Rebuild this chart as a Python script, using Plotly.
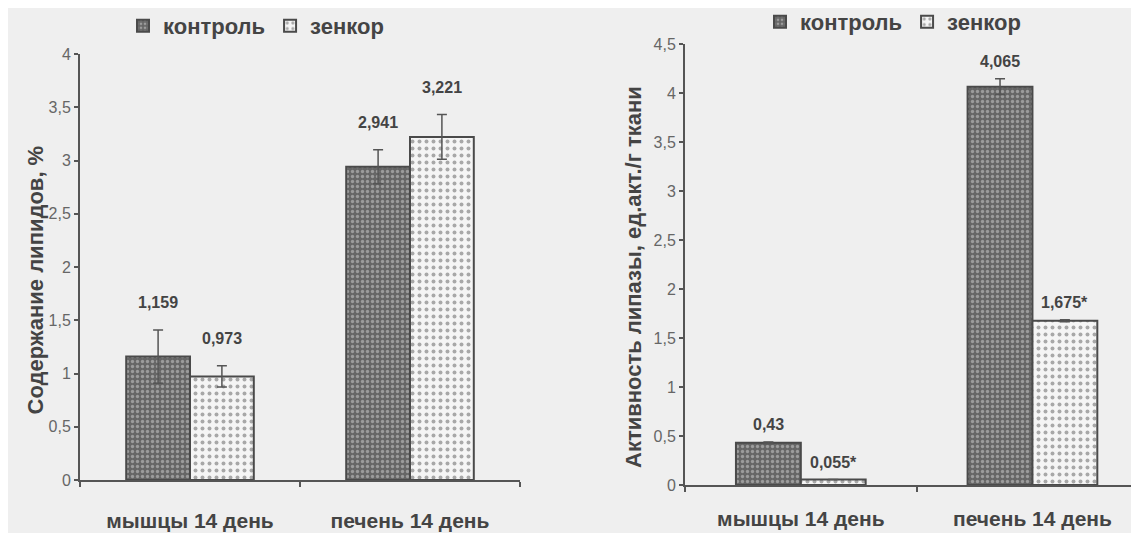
import plotly.graph_objects as go

categories = ["мышцы 14 день", "печень 14 день"]
series_names = ["контроль", "зенкор"]

# Left chart: lipid content, %
lipid_control = [1.159, 2.941]
lipid_zenkor = [0.973, 3.221]
lipid_control_err = [0.25, 0.16]
lipid_zenkor_err = [0.10, 0.21]
lipid_control_labels = ["1,159", "2,941"]
lipid_zenkor_labels = ["0,973", "3,221"]
lipid_ticks = [0, 0.5, 1, 1.5, 2, 2.5, 3, 3.5, 4]

# Right chart: lipase activity
lipase_control = [0.43, 4.065]
lipase_zenkor = [0.055, 1.675]
lipase_control_err = [0.01, 0.08]
lipase_zenkor_err = [0.0, 0.01]
lipase_control_labels = ["0,43", "4,065"]
lipase_zenkor_labels = ["0,055*", "1,675*"]
lipase_ticks = [0, 0.5, 1, 1.5, 2, 2.5, 3, 3.5, 4, 4.5]

left_title = "Содержание липидов, %"
right_title = "Активность липазы, ед.акт./г ткани"

FONT = "Liberation Sans, Arial, sans-serif"
TXT = "#444444"
AX = "#555555"
BG = "#efefef"

# page has an 8px body margin; figure occupies (8,8)-(1139,533)
W, H, OFF = 1131, 525, 8
def PX(x):
    return (x - OFF) / W
def PY(y):
    return 1 - (y - OFF) / H

ctrl_marker = dict(color="#6a6a6a", line=dict(color="#4a4a4a", width=2),
                   pattern=dict(shape=".", fgcolor="#9c9c9c", bgcolor="#666666",
                                size=5, solidity=0.35, fillmode="replace"))
zen_marker = dict(color="#f5f5f5", line=dict(color="#4a4a4a", width=2),
                  pattern=dict(shape=".", fgcolor="#a8a8a8", bgcolor="#f5f5f5",
                               size=7, solidity=0.25, fillmode="replace"))

def err(arr):
    return dict(type="data", array=arr, visible=True, color=AX, thickness=1.5, width=5)

fig = go.Figure()
wl = 0.29
wr = 0.28
fig.add_trace(go.Bar(x=categories, y=lipid_control, name="<b>" + series_names[0] + "</b>",
                     xaxis="x", yaxis="y", width=wl, offset=-wl, marker=ctrl_marker,
                     error_y=err(lipid_control_err), legend="legend"))
fig.add_trace(go.Bar(x=categories, y=lipid_zenkor, name="<b>" + series_names[1] + "</b>",
                     xaxis="x", yaxis="y", width=wl, offset=0, marker=zen_marker,
                     error_y=err(lipid_zenkor_err), legend="legend"))
fig.add_trace(go.Bar(x=categories, y=lipase_control, name="<b>" + series_names[0] + "</b>",
                     xaxis="x2", yaxis="y2", width=wr, offset=-wr, marker=ctrl_marker,
                     error_y=err(lipase_control_err), legend="legend2"))
fig.add_trace(go.Bar(x=categories, y=lipase_zenkor, name="<b>" + series_names[1] + "</b>",
                     xaxis="x2", yaxis="y2", width=wr, offset=0, marker=zen_marker,
                     error_y=err(lipase_zenkor_err), legend="legend2"))

annotations = []
def add_labels(vals, errs, labels, xref, yref, w, sign, yshift):
    for i, (v, e, t) in enumerate(zip(vals, errs, labels)):
        annotations.append(dict(x=i + sign * w / 2, y=v + e, xref=xref, yref=yref,
                                text="<b>" + t + "</b>", showarrow=False, yshift=yshift,
                                yanchor="middle", font=dict(size=16, color=TXT, family=FONT)))

add_labels(lipid_control, lipid_control_err, lipid_control_labels, "x", "y", wl, -1, 27)
add_labels(lipid_zenkor, lipid_zenkor_err, lipid_zenkor_labels, "x", "y", wl, 1, 27)
add_labels(lipase_control, lipase_control_err, lipase_control_labels, "x2", "y2", wr, -1, 17)
add_labels(lipase_zenkor, lipase_zenkor_err, lipase_zenkor_labels, "x2", "y2", wr, 1, 17)

annotations.append(dict(x=PX(20), y=PY(280), xref="paper", yref="paper",
                        text="<b>" + left_title + "</b>", textangle=-90, showarrow=False,
                        font=dict(size=22, color=TXT, family=FONT)))
annotations.append(dict(x=PX(633), y=PY(277), xref="paper", yref="paper",
                        text="<b>" + right_title + "</b>", textangle=-90, showarrow=False,
                        font=dict(size=22, color=TXT, family=FONT)))

xcommon = dict(type="category", showline=True, linecolor=AX, linewidth=2, ticks="outside",
               ticklen=5, tickcolor=AX, tickwidth=1.5, tickson="boundaries", showgrid=False,
               zeroline=False, automargin=False,
               tickfont=dict(size=21, color=TXT, family=FONT, weight="bold"))
ycommon = dict(showline=True, linecolor=AX, linewidth=2, ticks="outside", ticklen=4,
               tickcolor=AX, tickwidth=1.5, showgrid=False, zeroline=False, automargin=False,
               tickfont=dict(size=16, color="#666666", family=FONT))

fig.update_layout(
    width=W, height=H, margin=dict(l=0, r=0, t=0, b=0, autoexpand=False),
    paper_bgcolor=BG, plot_bgcolor=BG, separators=", ",
    font=dict(family=FONT, color=TXT),
    barmode="group",
    xaxis=dict(xcommon, domain=[PX(80), PX(520)], range=[-0.5, 1.5], anchor="y",
               ticklabelstandoff=21),
    yaxis=dict(ycommon, domain=[PY(480), PY(54)], range=[0, 4],
               tickvals=lipid_ticks, anchor="x"),
    xaxis2=dict(xcommon, domain=[PX(685), 1.0], range=[-0.5, 1.46], anchor="y2",
                ticklabelstandoff=14),
    yaxis2=dict(ycommon, domain=[PY(485), PY(44)], range=[0, 4.5],
                tickvals=lipase_ticks, anchor="x2"),
    legend=dict(orientation="h", x=PX(123), y=PY(26), xanchor="left", yanchor="middle",
                bgcolor="rgba(0,0,0,0)", font=dict(size=22, color=TXT, family=FONT)),
    legend2=dict(orientation="h", x=PX(760), y=PY(22), xanchor="left", yanchor="middle",
                 bgcolor="rgba(0,0,0,0)", font=dict(size=22, color=TXT, family=FONT)),
    annotations=annotations,
    showlegend=True,
)

fig.write_html("out.html")
